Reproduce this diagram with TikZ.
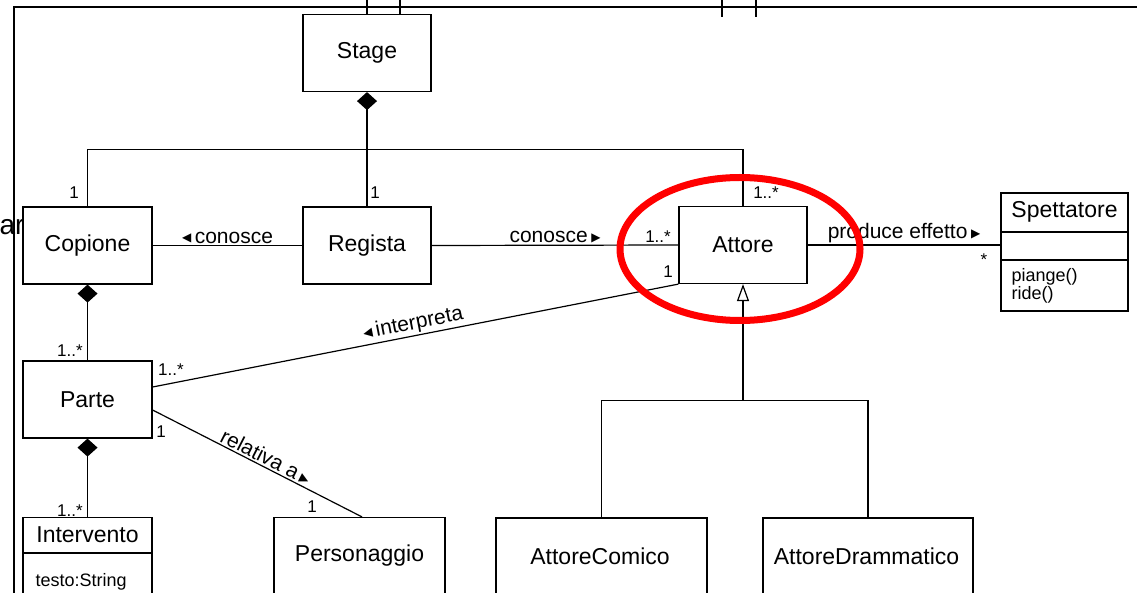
\documentclass[tikz,border=0pt]{standalone}
\usepackage{fontspec}
\setmainfont{Liberation Sans}
\newfontfamily\symf{DejaVu Sans}
\usetikzlibrary{arrows.meta,calc}
\newcommand\tril{\raisebox{1.5pt}{\symf\fontsize{12}{12}\selectfont ◀}}
\newcommand\trir{\raisebox{1.5pt}{\symf\fontsize{12}{12}\selectfont ▶}}
\begin{document}
\begin{tikzpicture}[x=1pt,y=-1pt, line width=1.2pt,
  cls/.style={draw, fill=white, rectangle, inner sep=0pt, minimum width=128pt, minimum height=77pt, font=\fontsize{23}{26}\selectfont},
  txt/.style={inner sep=0pt, font=\fontsize{23}{26}\selectfont},
  small/.style={inner sep=0pt, font=\fontsize{18}{18}\selectfont},
  mult/.style={inner sep=0pt, font=\fontsize{17}{20}\selectfont},
  lbl/.style={inner sep=1.5pt, font=\fontsize{21}{24}\selectfont},
  comp/.style={{Diamond[length=18pt,width=20pt]}-},
  gen/.style={-{Triangle[open,length=17pt,width=12pt,fill=white]}},
]
\useasboundingbox (0,0) rectangle (1137,593);
\clip (0,0) rectangle (1137,593);

% frame
\draw (14,600) -- (14,7) -- (1140,7);
\draw (722,0) -- (722,17);
\draw (756,0) -- (756,17);

% leftover text
\node[inner sep=0pt, anchor=base east, font=\fontsize{28}{30}\selectfont] (ar) at (25,235) {ar};

% classes
\node[cls] (stage) at (367,53) {Stage};
\node[cls, minimum width=129pt] (copione) at (87.5,245.5) {Copione};
\node[cls] (regista) at (367,245.5) {Regista};
\node[cls] (attore) at (743,245) {Attore};
\node[cls, minimum width=129pt] (parte) at (87.5,399.5) {Parte};
\node[cls, minimum width=171pt] (perso) at (359.5,556) {};
\node[txt] (persot) at (359.5,556) {Personaggio};
\node[cls, minimum width=211pt] (comico) at (601.5,556.5) {};
\node[txt] (comicot) at (600,556) {AttoreComico};
\node[cls, minimum width=210pt] (dramm) at (868,556.5) {};
\node[txt] (drammt) at (866.5,556) {AttoreDrammatico};

% Intervento
\node[cls, minimum width=129pt] (interv) at (87.5,556) {};
\draw (interv.west |- 0,553) -- (interv.east |- 0,553);
\node[txt] (intervn) at (87.5,535) {Intervento};
\node[small, anchor=base west] (intervat) at (35,586) {testo:String};

% Spettatore
\node[cls, minimum width=127pt, minimum height=118pt] (spett) at (1064.5,252) {};
\draw (spett.west |- 0,232) -- (spett.east |- 0,232);
\draw (spett.west |- 0,260) -- (spett.east |- 0,260);
\node[txt] (spettn) at (1064.5,212) {Spettatore};
\node[small, anchor=base west] (m1) at (1011,282) {piange()};
\node[small, anchor=base west] (m2) at (1011,300) {ride()};

% top connectors of Stage
\draw (stage.north) -- ++(0pt,14pt);
\draw ([xshift=33pt]stage.north) -- ++(0pt,14pt);

% compositions
\draw[comp] (stage.south) -- (regista.north);
\draw[comp] (copione.south) -- (parte.north);
\draw[comp] (parte.south) -- (interv.north);

% associations
\draw (copione.east) -- (regista.west) node[lbl, above, midway] (l1) {\tril\,conosce};
\draw (copione.north) -- ++(0pt,57pt) -| (attore.north);
\draw (regista.east) -- (attore.west) node[lbl, above, midway] (l2) {conosce\,\trir};
\draw (attore.east) -- ([yshift=7pt]spett.west) node[lbl, above, midway] (l3) {produce effetto\,\trir};
\draw ([yshift=12.5pt]parte.east) -- (attore.south west) node[lbl, above, sloped, midway] (l4) {\tril\,interpreta};
\draw ([yshift=-10.5pt]parte.east) -- ([xshift=2.5pt]perso.north) node[lbl, above, sloped, pos=0.52] (l5) {relativa a\,\trir};

% generalization
\coordinate (gj) at (743,400.5);
\draw (comico.north) |- (gj) -| (dramm.north);
\draw[gen] (gj) -- (attore.south);

% multiplicities
\node[mult] (mu1) at (74,193) {1};
\node[mult] (mu2) at (375,193) {1};
\node[mult] (mu3) at (766,193) {1..*};
\node[mult] (mu4) at (658,237) {1..*};
\node[mult] (mu5) at (668,272) {1};
\node[mult] (mu6) at (984,260) {*};
\node[mult] (mu7) at (70,351) {1..*};
\node[mult] (mu8) at (171,370) {1..*};
\node[mult] (mu9) at (161,432) {1};
\node[mult] (mu10) at (70,511) {1..*};
\node[mult] (mu11) at (312,507) {1};

% highlight
\draw[red, line width=7pt] (740,249) ellipse [x radius=120pt, y radius=71.5pt];
\end{tikzpicture}
\end{document}
